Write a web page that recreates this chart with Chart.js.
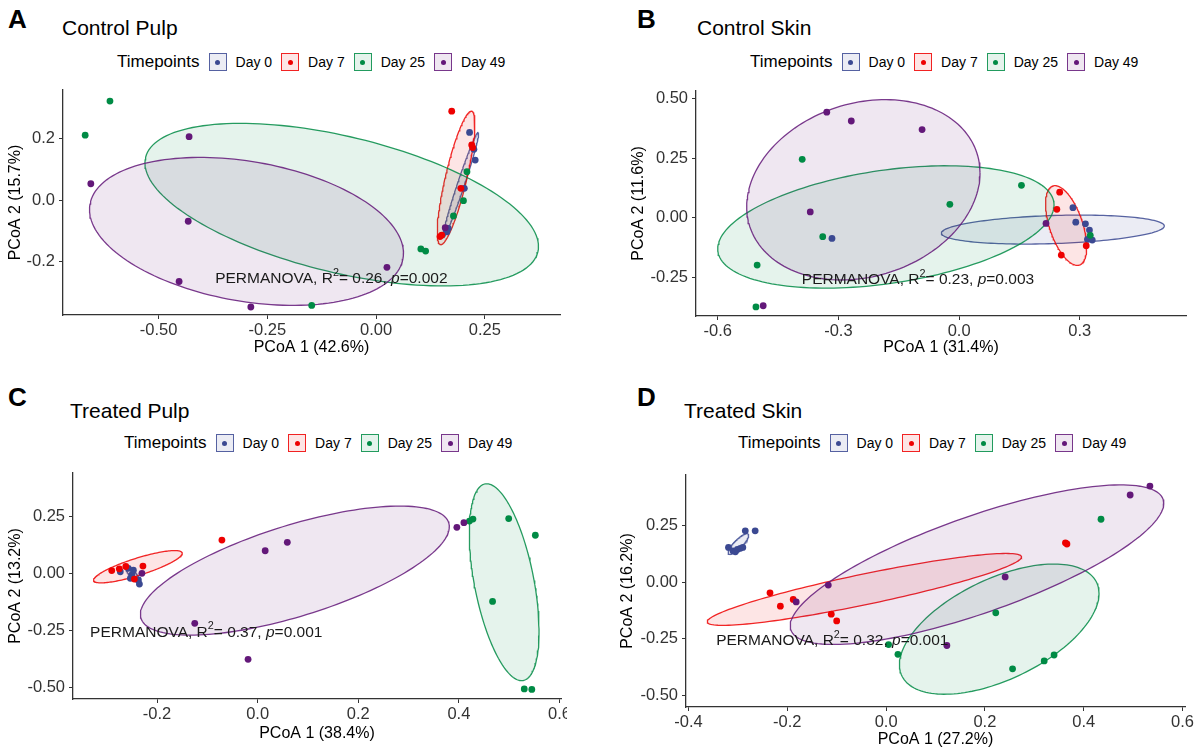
<!DOCTYPE html>
<html>
<head>
<meta charset="utf-8">
<script src="https://cdn.jsdelivr.net/npm/chart.js@4.4.1/dist/chart.umd.min.js"></script>
<style>
  body { margin:0; background:#fff; width:1201px; height:755px; overflow:hidden; position:relative;
         font-family:"Liberation Sans", Arial, sans-serif; color:#000; }
  .abs { position:absolute; white-space:nowrap; }
  .tag { font-weight:bold; font-size:26px; line-height:30px; }
  .title { font-size:21px; line-height:24px; }
  .legend { display:flex; align-items:center; font-size:14px; line-height:20px; height:20px; }
  .legend .lt { font-size:17px; margin-right:9px; }
  .key { width:18px; height:18px; box-sizing:border-box; border:1px solid; position:relative; margin-right:9px; }
  .key i { position:absolute; left:50%; top:50%; width:5px; height:5px; margin:-2.5px 0 0 -2.5px; border-radius:50%; }
  .lab { margin-right:9px; }
  canvas { position:absolute; }
</style>
</head>
<body>
<script>
// ---- groups -------------------------------------------------------------
const timepoints = ['Day 0', 'Day 7', 'Day 25', 'Day 49'];
const palette = ['#3B4992', '#EE0000', '#008B45', '#631879'];

// ---- Control Pulp (PCoA 1 vs PCoA 2) ----------------------------------
const ctrlPulpDay0  = [[0.215,0.220],[0.225,0.165],[0.228,0.130],[0.203,0.038],[0.166,-0.092],[0.163,-0.103]];
const ctrlPulpDay7  = [[0.174,0.289],[0.220,0.179],[0.222,0.171],[0.195,0.038],[0.147,-0.119],[0.151,-0.114]];
const ctrlPulpDay25 = [[-0.669,0.211],[-0.612,0.322],[-0.148,-0.343],[0.103,-0.159],[0.114,-0.166],[0.209,0.092],[0.201,-0.002],[0.178,-0.052]];
const ctrlPulpDay49 = [[-0.656,0.053],[-0.430,0.206],[-0.432,-0.069],[-0.453,-0.265],[-0.288,-0.348],[0.025,-0.219],[0.159,-0.090]];
// 95% ellipses: centre, end of first axis, end of conjugate axis
const ctrlPulpEllipses = [
  [0.195, 0.050, 0.235, 0.220, 0.203, 0.047],
  [0.184, 0.072, 0.220, 0.289, 0.208, 0.064],
  [-0.079, -0.015, 0.372, -0.169, -0.116, -0.230],
  [-0.298, -0.102, 0.063, -0.173, -0.298, -0.332]
];
const ctrlPulpXRange = [-0.720, 0.423];
const ctrlPulpYRange = [-0.374, 0.358];
const ctrlPulpXTicks = [-0.5, -0.25, 0, 0.25];
const ctrlPulpXTickLabels = ['-0.50', '-0.25', '0.00', '0.25'];
const ctrlPulpYTicks = [-0.2, 0, 0.2];
const ctrlPulpYTickLabels = ['-0.2', '0.0', '0.2'];

// ---- Control Skin -------------------------------------------------------
const ctrlSkinDay0  = [[-0.316,-0.087],[0.283,0.042],[0.290,-0.019],[0.314,-0.026],[0.324,-0.052],[0.319,-0.091],[0.331,-0.094]];
const ctrlSkinDay7  = [[0.250,0.107],[0.243,0.035],[0.316,-0.118],[0.254,-0.157]];
const ctrlSkinDay25 = [[-0.390,0.245],[-0.339,-0.080],[-0.502,-0.199],[-0.505,-0.375],[0.155,0.136],[-0.023,0.056],[0.326,-0.074]];
const ctrlSkinDay49 = [[-0.329,0.443],[-0.268,0.406],[-0.370,0.024],[-0.487,-0.370],[-0.092,0.370],[0.216,-0.024]];
const ctrlSkinEllipses = [
  [0.233, -0.050, 0.510, -0.035, 0.233, -0.109],
  [0.266, -0.033, 0.233, 0.133, 0.305, -0.011],
  [-0.182, -0.039, 0.236, 0.053, -0.182, -0.279],
  [-0.238, 0.117, 0.052, 0.188, -0.238, -0.255]
];
const ctrlSkinXRange = [-0.654, 0.564];
const ctrlSkinYRange = [-0.413, 0.532];
const ctrlSkinXTicks = [-0.6, -0.3, 0, 0.3];
const ctrlSkinXTickLabels = ['-0.6', '-0.3', '0.0', '0.3'];
const ctrlSkinYTicks = [-0.25, 0, 0.25, 0.5];
const ctrlSkinYTickLabels = ['-0.25', '0.00', '0.25', '0.50'];

// ---- Treated Pulp -------------------------------------------------------
const trtPulpDay0  = [[-0.273,0.007],[-0.257,0.022],[-0.250,-0.007],[-0.253,-0.022],[-0.237,-0.029],[-0.235,-0.047],[-0.247,0.014]];
const trtPulpDay7  = [[-0.290,0.012],[-0.275,0.020],[-0.262,0.030],[-0.245,-0.025],[-0.228,0.032],[-0.071,0.146]];
const trtPulpDay25 = [[0.421,0.229],[0.428,0.238],[0.499,0.240],[0.552,0.167],[0.467,-0.123],[0.530,-0.507],[0.545,-0.509]];
const trtPulpDay49 = [[0.015,0.099],[0.059,0.136],[-0.125,-0.219],[-0.019,-0.377],[0.396,0.202],[0.410,0.222],[-0.230,0.000]];
const trtPulpEllipses = [
  [-0.248, -0.005, -0.234, -0.042, -0.253, -0.014],
  [-0.238, 0.029, -0.150, 0.090, -0.233, -0.007],
  [0.490, -0.039, 0.452, 0.392, 0.548, -0.014],
  [0.074, 0.012, 0.381, 0.204, 0.074, -0.196]
];
const trtPulpXRange = [-0.367, 0.603];
const trtPulpYRange = [-0.551, 0.440];
const trtPulpXTicks = [-0.2, 0, 0.2, 0.4, 0.6];
const trtPulpXTickLabels = ['-0.2', '0.0', '0.2', '0.4', '0.6'];
const trtPulpYTicks = [-0.5, -0.25, 0, 0.25];
const trtPulpYTickLabels = ['-0.50', '-0.25', '0.00', '0.25'];

// ---- Treated Skin -------------------------------------------------------
const trtSkinDay0  = [[-0.285,0.226],[-0.265,0.226],[-0.319,0.153],[-0.310,0.138],[-0.305,0.134],[-0.301,0.144],[-0.295,0.149],[-0.290,0.153]];
const trtSkinDay7  = [[-0.235,-0.047],[-0.214,-0.106],[-0.188,-0.076],[-0.111,-0.141],[-0.100,-0.171],[0.363,0.173],[0.366,0.168]];
const trtSkinDay25 = [[0.005,-0.275],[0.024,-0.318],[0.222,-0.135],[0.256,-0.382],[0.320,-0.347],[0.340,-0.321],[0.435,0.277]];
const trtSkinDay49 = [[-0.117,-0.013],[-0.182,-0.087],[0.241,0.023],[0.123,-0.279],[0.494,0.384],[0.534,0.423]];
const trtSkinEllipses = [
  [-0.299, 0.168, -0.279, 0.212, -0.293, 0.155],
  [-0.044, -0.032, 0.274, 0.112, -0.038, -0.098],
  [0.229, -0.207, 0.431, -0.050, 0.229, -0.447],
  [0.184, 0.077, 0.562, 0.347, 0.184, -0.148]
];
const trtSkinXRange = [-0.405, 0.605];
const trtSkinYRange = [-0.550, 0.472];
const trtSkinXTicks = [-0.4, -0.2, 0, 0.2, 0.4, 0.6];
const trtSkinXTickLabels = ['-0.4', '-0.2', '0.0', '0.2', '0.4', '0.6'];
const trtSkinYTicks = [-0.5, -0.25, 0, 0.25];
const trtSkinYTickLabels = ['-0.50', '-0.25', '0.00', '0.25'];

// ---- PERMANOVA results ---------------------------------------------------
const permanovaR2 = ['0.26', '0.23', '0.37', '0.32'];
const permanovaP  = ['0.002', '0.003', '0.001', '0.001'];

// ---- page layout (pixels) -----------------------------------------------
const panels = [
  { tag:'A', title:'Control Pulp', xTitle:'PCoA 1 (42.6%)', yTitle:'PCoA 2 (15.7%)',
    groups:[ctrlPulpDay0, ctrlPulpDay7, ctrlPulpDay25, ctrlPulpDay49], ellipses:ctrlPulpEllipses,
    xRange:ctrlPulpXRange, yRange:ctrlPulpYRange, xTicks:ctrlPulpXTicks, xLabels:ctrlPulpXTickLabels,
    yTicks:ctrlPulpYTicks, yLabels:ctrlPulpYTickLabels, stat:0, statAt:[-0.370, -0.257],
    canvas:{l:0, t:80, r:600, b:362}, area:{l:63, r:560, t:90, b:315},
    tagPos:[8, 19], titlePos:[62, 28], legendPos:[117, 62] },
  { tag:'B', title:'Control Skin', xTitle:'PCoA 1 (31.4%)', yTitle:'PCoA 2 (11.6%)',
    groups:[ctrlSkinDay0, ctrlSkinDay7, ctrlSkinDay25, ctrlSkinDay49], ellipses:ctrlSkinEllipses,
    xRange:ctrlSkinXRange, yRange:ctrlSkinYRange, xTicks:ctrlSkinXTicks, xLabels:ctrlSkinXTickLabels,
    yTicks:ctrlSkinYTicks, yLabels:ctrlSkinYTickLabels, stat:1, statAt:[-0.391, -0.262],
    canvas:{l:623, t:80, r:1201, b:362}, area:{l:696, r:1186, t:91, b:316},
    tagPos:[637, 19], titlePos:[697, 28], legendPos:[750, 62] },
  { tag:'C', title:'Treated Pulp', xTitle:'PCoA 1 (38.4%)', yTitle:'PCoA 2 (13.2%)',
    groups:[trtPulpDay0, trtPulpDay7, trtPulpDay25, trtPulpDay49], ellipses:trtPulpEllipses,
    xRange:trtPulpXRange, yRange:trtPulpYRange, xTicks:trtPulpXTicks, xLabels:trtPulpXTickLabels,
    yTicks:trtPulpYTicks, yLabels:trtPulpYTickLabels, stat:2, statAt:[-0.333, -0.259],
    canvas:{l:0, t:463, r:567, b:748}, area:{l:73, r:561, t:473, b:699},
    tagPos:[8, 397], titlePos:[70, 411], legendPos:[124, 443] },
  { tag:'D', title:'Treated Skin', xTitle:'PCoA 1 (27.2%)', yTitle:'PCoA 2 (16.2%)',
    groups:[trtSkinDay0, trtSkinDay7, trtSkinDay25, trtSkinDay49], ellipses:trtSkinEllipses,
    xRange:trtSkinXRange, yRange:trtSkinYRange, xTicks:trtSkinXTicks, xLabels:trtSkinXTickLabels,
    yTicks:trtSkinYTicks, yLabels:trtSkinYTickLabels, stat:3, statAt:[-0.344, -0.260],
    canvas:{l:612, t:463, r:1201, b:754}, area:{l:686, r:1185, t:475, b:707},
    tagPos:[637, 397], titlePos:[684, 411], legendPos:[738, 443] }
];

const FONT = '"Liberation Sans", Arial, sans-serif';

function rgba(hex, a) {
  const n = parseInt(hex.slice(1), 16);
  return `rgba(${(n >> 16) & 255},${(n >> 8) & 255},${n & 255},${a})`;
}

// outline of an ellipse given its centre and two conjugate semi-axes
function ellipseOutline(e, n = 160) {
  const [cx, cy, ax, ay, bx, by] = e;
  const out = [];
  for (let i = 0; i <= n; i++) {
    const t = 2 * Math.PI * i / n, c = Math.cos(t), s = Math.sin(t);
    out.push({ x: cx + (ax - cx) * c + (bx - cx) * s, y: cy + (ay - cy) * c + (by - cy) * s });
  }
  return out;
}

// PERMANOVA annotation, anchored in data units
const statLabel = {
  id: 'statLabel',
  afterDatasetsDraw(chart, args, opts) {
    const { ctx, scales: { x, y } } = chart;
    let px = x.getPixelForValue(opts.at[0]);
    const py = y.getPixelForValue(opts.at[1]);
    const size = 15.5;
    const parts = [
      ['PERMANOVA, R', `${size}px ${FONT}`, 0],
      ['2', `${size * 0.7}px ${FONT}`, -6],
      ['= ' + opts.r2 + ', ', `${size}px ${FONT}`, 0],
      ['p', `italic ${size}px ${FONT}`, 0],
      ['=' + opts.p, `${size}px ${FONT}`, 0]
    ];
    ctx.save();
    ctx.fillStyle = '#1a1a1a';
    ctx.textAlign = 'left';
    ctx.textBaseline = 'middle';
    for (const [txt, font, dy] of parts) {
      ctx.font = font;
      ctx.fillText(txt, px, py + dy);
      px += ctx.measureText(txt).width;
    }
    ctx.restore();
  }
};

function addText(cls, text, x, cy, lh) {
  const d = document.createElement('div');
  d.className = 'abs ' + cls;
  d.textContent = text;
  d.style.left = x + 'px';
  d.style.top = (cy - lh / 2) + 'px';
  document.body.appendChild(d);
}

function addLegend(x, cy) {
  const d = document.createElement('div');
  d.className = 'abs legend';
  d.style.left = x + 'px';
  d.style.top = (cy - 10) + 'px';
  const lt = document.createElement('span');
  lt.className = 'lt';
  lt.textContent = 'Timepoints';
  d.appendChild(lt);
  timepoints.forEach((name, i) => {
    const k = document.createElement('span');
    k.className = 'key';
    k.style.borderColor = rgba(palette[i], 0.85);
    k.style.background = rgba(palette[i], 0.1);
    const dot = document.createElement('i');
    dot.style.background = palette[i];
    k.appendChild(dot);
    d.appendChild(k);
    const l = document.createElement('span');
    l.className = 'lab';
    l.textContent = name;
    d.appendChild(l);
  });
  document.body.appendChild(d);
}

function axisCommon(ticks, labels) {
  return {
    type: 'linear',
    afterBuildTicks: s => { s.ticks = ticks.map(v => ({ value: v })); },
    ticks: {
      callback: (v, i) => labels[i],
      font: { family: FONT, size: 16.5 },
      color: '#333',
      autoSkip: false,
      maxRotation: 0,
      minRotation: 0
    },
    grid: { display: true, drawOnChartArea: false, drawTicks: true, tickLength: 4, color: '#333', lineWidth: 1 },
    border: { display: true, color: '#333', width: 1.3 }
  };
}

panels.forEach(p => {
  addText('tag', p.tag, p.tagPos[0], p.tagPos[1], 30);
  addText('title', p.title, p.titlePos[0], p.titlePos[1], 24);
  addLegend(p.legendPos[0], p.legendPos[1]);

  const cv = document.createElement('canvas');
  const W = p.canvas.r - p.canvas.l, H = p.canvas.b - p.canvas.t;
  cv.width = W; cv.height = H;
  cv.style.left = p.canvas.l + 'px';
  cv.style.top = p.canvas.t + 'px';
  cv.style.width = W + 'px';
  cv.style.height = H + 'px';
  document.body.appendChild(cv);

  const yW = p.area.l - p.canvas.l;
  const xH = p.canvas.b - p.area.b;

  const datasets = [];
  p.ellipses.forEach((e, i) => {
    datasets.push({
      type: 'line', data: ellipseOutline(e), fill: 'shape', tension: 0,
      borderColor: rgba(palette[i], 0.85), backgroundColor: rgba(palette[i], 0.1),
      borderWidth: 1.3, pointRadius: 0, order: 20 - i, clip: false
    });
  });
  p.groups.forEach((pts, i) => {
    datasets.push({
      type: 'scatter', data: pts.map(([x, y]) => ({ x, y })),
      backgroundColor: palette[i], borderColor: palette[i], borderWidth: 0,
      pointRadius: 3.4, order: 10 - i, clip: false
    });
  });

  const xAxis = axisCommon(p.xTicks, p.xLabels);
  Object.assign(xAxis, {
    min: p.xRange[0], max: p.xRange[1], position: 'bottom',
    afterFit: s => { s.height = xH; s.paddingLeft = 0; s.paddingRight = 0; },
    title: { display: true, text: p.xTitle, font: { family: FONT, size: 16 }, color: '#000', padding: { top: 0, bottom: 5 } }
  });
  xAxis.ticks.padding = 2;
  const yAxis = axisCommon(p.yTicks, p.yLabels);
  Object.assign(yAxis, {
    min: p.yRange[0], max: p.yRange[1], position: 'left',
    afterFit: s => { s.width = yW; s.paddingTop = 0; s.paddingBottom = 0; },
    title: { display: true, text: p.yTitle, font: { family: FONT, size: 16 }, color: '#000', padding: { top: 6, bottom: 0 } }
  });
  yAxis.ticks.padding = 4;

  new Chart(cv, {
    type: 'scatter',
    data: { datasets },
    options: {
      responsive: false, animation: false, devicePixelRatio: 1, events: [],
      layout: { autoPadding: false, padding: { left: 0, top: p.area.t - p.canvas.t, right: p.canvas.r - p.area.r, bottom: 0 } },
      scales: { x: xAxis, y: yAxis },
      plugins: {
        legend: { display: false }, tooltip: { enabled: false },
        statLabel: { at: p.statAt, r2: permanovaR2[p.stat], p: permanovaP[p.stat] }
      }
    },
    plugins: [statLabel]
  });
});
</script>
</body>
</html>
